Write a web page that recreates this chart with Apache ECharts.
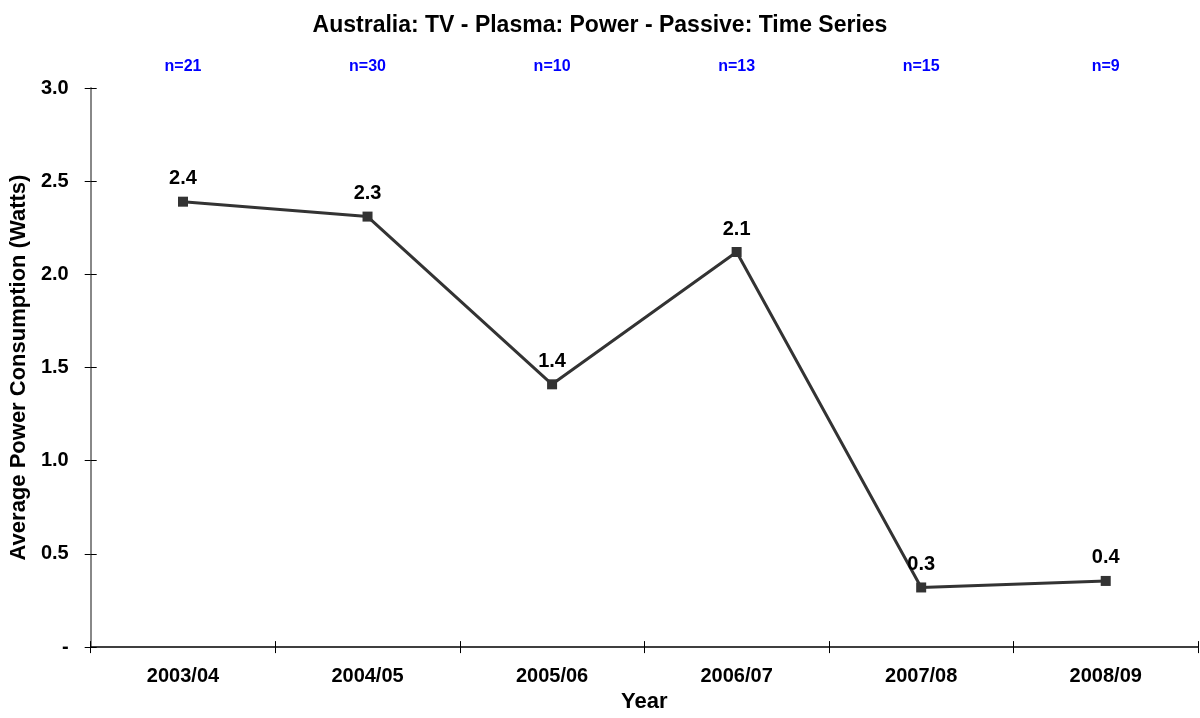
<!DOCTYPE html>
<html>
<head>
<meta charset="utf-8">
<script src="https://cdn.jsdelivr.net/npm/echarts@6/dist/echarts.min.js"></script>
<style>
  html, body { margin: 0; padding: 0; background: #fff; }
  #chart { width: 1200px; height: 718px; }
</style>
</head>
<body>
<div id="chart"></div>
<script>
'use strict';
var years = ['2003/04', '2004/05', '2005/06', '2006/07', '2007/08', '2008/09'];
var powerWatts = [2.39, 2.31, 1.41, 2.12, 0.32, 0.355];
var sampleCounts = [21, 30, 10, 13, 15, 9];

var font = 'Liberation Sans, Arial, sans-serif';
var chart = echarts.init(document.getElementById('chart'));

var option = {
    animation: false,
    title: {
        text: 'Australia: TV - Plasma: Power - Passive: Time Series',
        left: 'center',
        top: 9,
        textStyle: { fontFamily: font, fontSize: 23, fontWeight: 'bold', color: '#000' }
    },
    grid: { left: 90, right: 2, top: 88, bottom: 67 },
    xAxis: [
        {
            type: 'category',
            data: years,
            position: 'bottom',
            boundaryGap: true,
            name: 'Year',
            nameLocation: 'middle',
            nameGap: 43,
            nameTextStyle: { fontFamily: font, fontSize: 22, fontWeight: 'bold', color: '#000' },
            axisLine: { lineStyle: { color: '#000', width: 1.5 } },
            axisTick: { show: true, length: 6, lineStyle: { color: '#000' } },
            axisLabel: { fontFamily: font, fontSize: 20, fontWeight: 'bold', color: '#000', margin: 19 },
            splitLine: { show: false }
        },
        {
            type: 'category',
            data: years,
            position: 'bottom',
            boundaryGap: true,
            axisLine: { show: false },
            axisTick: { show: true, inside: true, length: 6, lineStyle: { color: '#000' } },
            axisLabel: { show: false }
        },
        {
            type: 'category',
            data: sampleCounts.map(function (n) { return 'n=' + n; }),
            position: 'top',
            boundaryGap: true,
            axisLine: { show: false },
            axisTick: { show: false },
            axisLabel: { fontFamily: font, fontSize: 16, fontWeight: 'bold', color: '#0000ff', margin: 13 }
        }
    ],
    yAxis: [
        {
            type: 'value',
            min: 0,
            max: 3,
            interval: 0.5,
            name: 'Average Power Consumption (Watts)',
            nameLocation: 'middle',
            nameRotate: 90,
            nameGap: 55,
            nameTextStyle: { fontFamily: font, fontSize: 22, fontWeight: 'bold', color: '#000' },
            axisLine: { show: true, lineStyle: { color: '#888', width: 2 } },
            axisTick: { show: true, length: 6, lineStyle: { color: '#000' } },
            axisLabel: {
                fontFamily: font, fontSize: 20, fontWeight: 'bold', color: '#000', margin: 22,
                formatter: function (v) { return v === 0 ? '-' : v.toFixed(1); }
            },
            splitLine: { show: false }
        },
        {
            type: 'value',
            min: 0,
            max: 3,
            interval: 0.5,
            position: 'left',
            axisLine: { show: false },
            axisTick: { show: true, inside: true, length: 6, lineStyle: { color: '#000' } },
            axisLabel: { show: false },
            splitLine: { show: false }
        }
    ],
    series: [
        {
            name: 'Power',
            type: 'line',
            data: powerWatts,
            symbol: 'rect',
            symbolSize: 10,
            itemStyle: { color: '#333' },
            lineStyle: { color: '#333', width: 3 },
            label: {
                show: true,
                position: 'top',
                distance: 8,
                fontFamily: font,
                fontSize: 20,
                fontWeight: 'bold',
                color: '#000',
                formatter: function (p) { return p.value.toFixed(1); }
            }
        }
    ]
};
chart.setOption(option);
</script>
</body>
</html>
